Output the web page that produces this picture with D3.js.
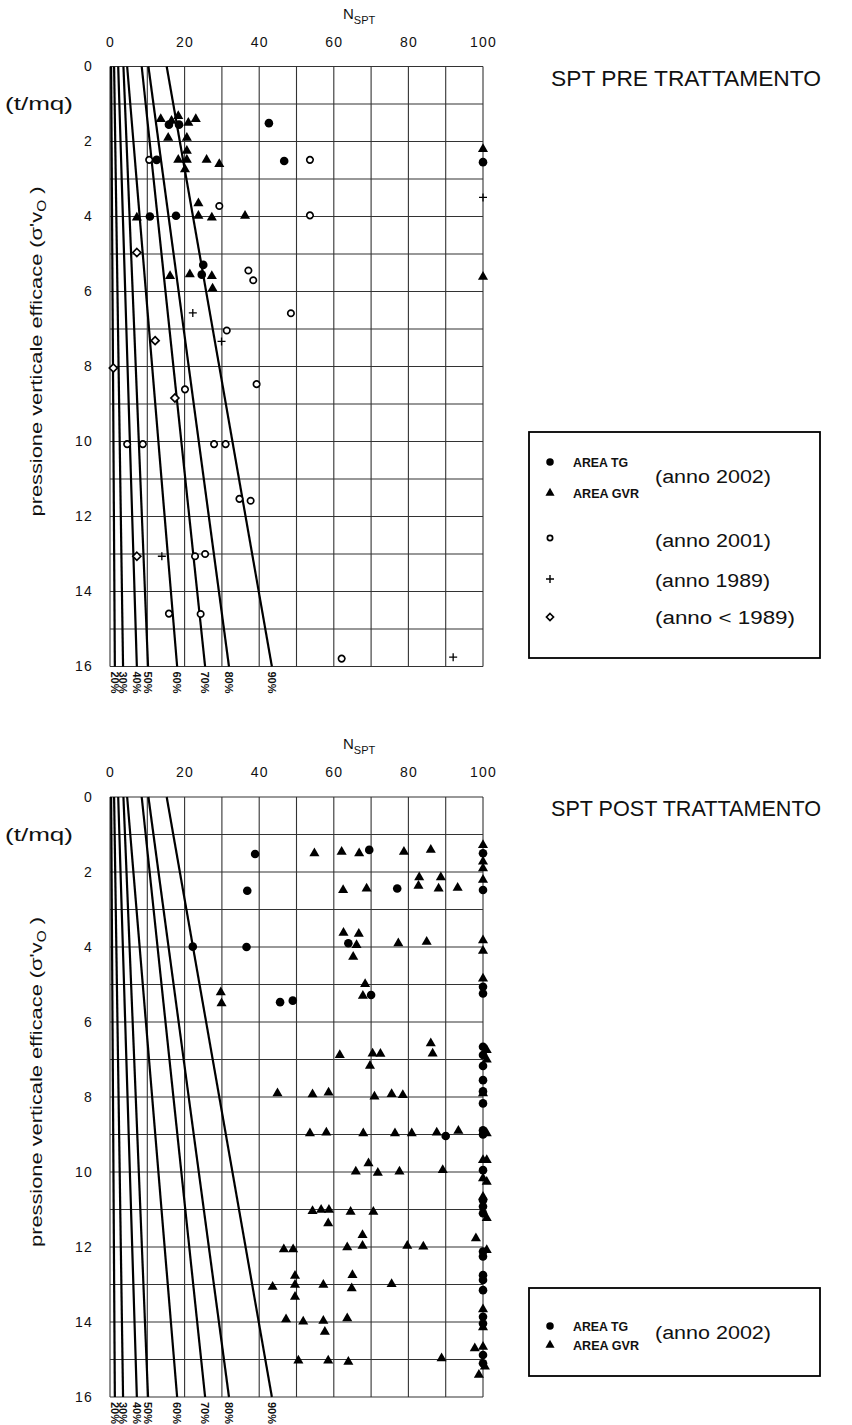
<!DOCTYPE html>
<html>
<head>
<meta charset="utf-8">
<script src="https://cdn.jsdelivr.net/npm/d3@7"></script>
<style>
  body { margin: 0; background: #fff; }
  svg { display: block; }
  text { font-family: "Liberation Sans", Arial, sans-serif; fill: #111; }
</style>
</head>
<body>
<div id="chart"></div>
<script>
// x ticks / y ticks
var nTicks = [0, 20, 40, 60, 80, 100],
    sigmaTicks = [0, 2, 4, 6, 8, 10, 12, 14, 16];

// relative density lines: N at sigma=0 and at sigma=16
var drLabels = ["20%", "30%", "40%", "50%", "60%", "70%", "80%", "90%"],
    drTopN = [0.3, 1.1, 2.2, 3.6, 4.6, 8.5, 10.3, 15.2],
    drBottomN = [1.3, 3.5, 7.2, 10.2, 18.0, 25.5, 31.9, 43.4];

// SPT PRE trattamento  [N, sigma]
var preTG = [[15.8,1.55],[18.5,1.55],[42.6,1.51],[12.5,2.49],[46.7,2.52],[100,2.55],
    [10.7,4.0],[17.7,3.98],[25,5.29],[24.6,5.55]];
var preGVR = [[13.6,1.4],[16.5,1.45],[18.3,1.32],[21,1.5],[23,1.4],[15.6,1.9],[20.6,1.9],
    [20.6,2.25],[18.3,2.49],[20.6,2.49],[25.9,2.49],[29.3,2.6],[20.1,2.74],[23.7,3.65],
    [7.2,4.03],[23.7,3.98],[27.3,4.03],[36.2,3.98],[16.1,5.59],[21.4,5.54],[27.3,5.59],
    [27.5,5.92],[100,2.2],[100,5.61]];
var pre2001 = [[10.5,2.49],[53.6,2.49],[29.3,3.72],[53.6,3.97],[37.1,5.44],[38.4,5.7],
    [48.5,6.58],[31.3,7.04],[39.3,8.47],[20.1,8.61],[4.6,10.07],[8.8,10.07],[27.9,10.07],
    [31,10.07],[34.7,11.53],[37.7,11.58],[22.8,13.06],[25.5,13.0],[15.8,14.59],[24.3,14.6],
    [62.1,15.79]];
var pre1989 = [[22.2,6.57],[29.9,7.33],[13.9,13.06],[100,3.49],[92,15.75]];
var preOld = [[7.2,4.96],[12.1,7.31],[0.9,8.04],[17.4,8.84],[7.2,13.06]];

// SPT POST trattamento  [N, sigma]
var postTG = [[38.9,1.52],[36.8,2.5],[22.2,3.99],[36.6,4.0],[45.6,5.47],[49.0,5.43],
    [69.5,1.41],[77.0,2.44],[63.9,3.9],[70.0,5.28],[90.0,9.04],
    [100,1.5],[100,2.48],[100,5.06],[100,5.24],[100,6.66],[100,6.88],[100,7.17],[100,7.55],
    [100,7.85],[100,8.17],[100,8.89],[100,9.0],[100,9.95],[100,10.75],[100,10.92],[100,11.1],
    [100,12.12],[100,12.25],[100,12.75],[100,12.88],[100,13.15],[100,13.86],[100,14.04],
    [100,14.88],[100,15.1]];
var postGVR = [[54.8,1.5],[62.1,1.46],[66.8,1.5],[78.8,1.46],[86.0,1.41],
    [100,1.28],[100,1.72],[100,1.9],
    [62.5,2.48],[68.8,2.44],[82.9,2.14],[82.7,2.37],[88.7,2.14],[88.1,2.44],[93.2,2.42],[100,2.21],
    [62.6,3.62],[66.7,3.65],[66.1,3.95],[65.2,4.26],[77.3,3.9],[84.9,3.86],[100,3.82],[100,4.1],
    [29.7,5.21],[29.9,5.5],[68.4,4.99],[67.8,5.3],[100,4.84],
    [61.6,6.88],[86.0,6.57],[86.5,6.84],[70.4,6.84],[72.5,6.85],[69.7,7.17],
    [101,6.75],[101,7.0],[100,7.9],
    [44.9,7.9],[54.3,7.93],[58.6,7.88],[70.9,7.99],[75.5,7.92],[78.5,7.95],
    [53.6,8.97],[58.0,8.95],[67.9,8.97],[76.4,8.97],[80.9,8.97],[87.6,8.95],[93.4,8.9],[101,8.97],
    [69.3,9.77],[65.9,9.99],[71.8,10.02],[77.6,9.99],[89.2,9.95],
    [100,9.68],[101,9.68],[100,10.17],[101,10.26],[100,10.66],
    [54.3,11.04],[56.6,11.01],[58.7,11.01],[58.5,11.37],[64.5,11.06],[70.6,11.06],[101,11.23],
    [46.6,12.06],[49.1,12.06],[63.6,12.01],[67.7,11.97],[67.7,11.68],[79.7,11.97],[84.0,11.99],
    [98.1,11.77],[101,12.08],
    [49.6,12.77],[49.6,13.01],[49.6,13.33],[43.6,13.06],[57.2,13.01],[65.0,12.75],[64.8,13.1],[75.5,12.99],
    [47.2,13.93],[51.8,13.99],[57.2,13.97],[57.6,14.26],[63.6,13.9],[100,13.66],[100,14.14],
    [50.5,15.03],[58.5,15.03],[63.9,15.06],[88.9,14.97],[97.8,14.7],[100,14.66],[100.5,15.19],[98.9,15.41]];

var W = 852, H = 1425;
var svg = d3.select("#chart").append("svg")
    .attr("width", W)
    .attr("height", H);

var symTri = d3.symbol().type(d3.symbolTriangle).size(44);

function drawPanel(top, title, series){
    var x = d3.scaleLinear().domain([0, 100]).range([110, 483]),
        y = d3.scaleLinear().domain([0, 16]).range([top, top + 600]);

    var g = svg.append("g");

    // grid (every 10 N, every 1 t/mq)
    g.append("g").selectAll("line")
        .data(d3.range(0, 101, 10))
        .join("line")
        .attr("x1", d => x(d)).attr("x2", d => x(d))
        .attr("y1", y(0)).attr("y2", y(16))
        .attr("stroke", "#333").attr("stroke-width", 1.1);
    g.append("g").selectAll("line")
        .data(d3.range(0, 17, 1))
        .join("line")
        .attr("x1", x(0)).attr("x2", x(100))
        .attr("y1", d => y(d)).attr("y2", d => y(d))
        .attr("stroke", "#333").attr("stroke-width", 1.1);

    // axis labels
    var xAxis = g.append("g")
        .attr("transform", "translate(0," + (top - 20) + ")")
        .call(d3.axisTop(x).tickValues(nTicks).tickSize(0).tickPadding(0));
    xAxis.select(".domain").remove();
    xAxis.selectAll("text")
        .style("font-family", "Liberation Sans, Arial, sans-serif")
        .style("font-size", "14px").style("letter-spacing", "1.2px").attr("fill", "#111");

    var yAxis = g.append("g")
        .attr("transform", "translate(93,0)")
        .call(d3.axisLeft(y).tickValues(sigmaTicks).tickSize(0).tickPadding(0));
    yAxis.select(".domain").remove();
    yAxis.selectAll("text")
        .style("font-family", "Liberation Sans, Arial, sans-serif")
        .style("font-size", "14px").style("letter-spacing", "1.2px").attr("fill", "#111");

    var nl = g.append("text")
        .attr("x", 343).attr("y", top - 48)
        .style("font-size", "15px");
    nl.append("tspan").text("N");
    nl.append("tspan").attr("dy", 5).style("font-size", "11px").text("SPT");

    g.append("text")
        .attr("x", 5).attr("y", y(1) + 6)
        .style("font-size", "18px")
        .attr("textLength", 68)
        .attr("lengthAdjust", "spacingAndGlyphs")
        .text("(t/mq)");

    var yt = g.append("text")
        .attr("transform", "translate(42," + y(7.6) + ") rotate(-90)")
        .attr("text-anchor", "middle")
        .attr("textLength", 330)
        .attr("lengthAdjust", "spacingAndGlyphs")
        .style("font-size", "17px");
    yt.append("tspan").text("pressione verticale efficace  (\u03c3'v");
    yt.append("tspan").attr("dy", 4).style("font-size", "12px").text("O");
    yt.append("tspan").attr("dy", -4).text(" )");

    g.append("text")
        .attr("x", 551).attr("y", top + 19)
        .style("font-size", "22px")
        .attr("textLength", 270)
        .attr("lengthAdjust", "spacingAndGlyphs")
        .text(title);

    // relative density lines
    var dr = drLabels.map((l, i) => ({label: l, n0: drTopN[i], n1: drBottomN[i]}));
    g.append("g").selectAll("line")
        .data(dr)
        .join("line")
        .attr("x1", d => x(d.n0)).attr("y1", y(0))
        .attr("x2", d => x(d.n1)).attr("y2", y(16))
        .attr("stroke", "#000").attr("stroke-width", 2.2);
    g.append("g").selectAll("text")
        .data(dr)
        .join("text")
        .attr("transform", d => "translate(" + (x(d.n1) - 4) + "," + (y(16) + 5) + ") rotate(90)")
        .style("font-size", "11px")
        .style("font-weight", "bold")
        .text(d => d.label);

    // points
    var pts = g.append("g");
    series.forEach(function(s){
        var sel = pts.append("g").selectAll("path")
            .data(s.data)
            .join("path")
            .attr("transform", d => "translate(" + x(d[0]) + "," + y(d[1]) + ")");
        if (s.type == "tg") {
            sel.attr("d", d3.symbol().type(d3.symbolCircle).size(58)).attr("fill", "#000");
        } else if (s.type == "gvr") {
            sel.attr("d", symTri).attr("fill", "#000");
        } else if (s.type == "open") {
            sel.attr("d", d3.symbol().type(d3.symbolCircle).size(32))
               .attr("fill", "#fff").attr("stroke", "#000").attr("stroke-width", 1.7);
        } else if (s.type == "plus") {
            sel.attr("d", "M-4,0H4M0,-4V4").attr("stroke", "#000").attr("stroke-width", 1.3);
        } else if (s.type == "diamond") {
            sel.attr("d", "M0,-4L4,0L0,4L-4,0Z")
               .attr("fill", "#fff").attr("stroke", "#000").attr("stroke-width", 1.7);
        }
    });
}

function drawLegend(x0, y0, w, h, rows){
    var g = svg.append("g");
    g.append("rect")
        .attr("x", x0).attr("y", y0).attr("width", w).attr("height", h)
        .attr("fill", "none").attr("stroke", "#000").attr("stroke-width", 1.8);
    rows.forEach(function(r){
        var p = g.append("path")
            .attr("transform", "translate(" + (x0 + 21) + "," + (y0 + r.dy) + ")");
        if (r.type == "tg") p.attr("d", d3.symbol().type(d3.symbolCircle).size(44)).attr("fill", "#000");
        if (r.type == "gvr") p.attr("d", d3.symbol().type(d3.symbolTriangle).size(36)).attr("fill", "#000");
        if (r.type == "open") p.attr("d", d3.symbol().type(d3.symbolCircle).size(22))
            .attr("fill", "none").attr("stroke", "#000").attr("stroke-width", 1.7);
        if (r.type == "plus") p.attr("d", "M-4,0H4M0,-4V4").attr("stroke", "#000").attr("stroke-width", 1.4);
        if (r.type == "diamond") p.attr("d", "M0,-3.5L3.5,0L0,3.5L-3.5,0Z")
            .attr("fill", "none").attr("stroke", "#000").attr("stroke-width", 1.7);
        if (r.small) {
            g.append("text")
                .attr("x", x0 + 44).attr("y", y0 + r.dy + 5)
                .style("font-size", "12px").style("font-weight", "bold")
                .attr("textLength", r.sw)
                .attr("lengthAdjust", "spacingAndGlyphs")
                .text(r.small);
        }
        if (r.label) {
            g.append("text")
                .attr("x", x0 + 126).attr("y", y0 + r.ly + 6)
                .style("font-size", "18px")
                .attr("textLength", r.lw)
                .attr("lengthAdjust", "spacingAndGlyphs")
                .text(r.label);
        }
    });
}

drawPanel(66.5, "SPT  PRE  TRATTAMENTO", [
    {type: "tg", data: preTG},
    {type: "gvr", data: preGVR},
    {type: "open", data: pre2001},
    {type: "plus", data: pre1989},
    {type: "diamond", data: preOld}
]);
drawLegend(529, 432, 291, 226, [
    {type: "tg", dy: 30, small: "AREA  TG", sw: 55},
    {type: "gvr", dy: 61, small: "AREA  GVR", sw: 66, label: "(anno  2002)", ly: 45, lw: 116},
    {type: "open", dy: 106, label: "(anno  2001)", ly: 109, lw: 116},
    {type: "plus", dy: 147, label: "(anno  1989)", ly: 149, lw: 115},
    {type: "diamond", dy: 185, label: "(anno  <  1989)", ly: 186, lw: 140}
]);

drawPanel(797, "SPT  POST  TRATTAMENTO", [
    {type: "gvr", data: postGVR},
    {type: "tg", data: postTG}
]);
drawLegend(529, 1288, 291, 88, [
    {type: "tg", dy: 38, small: "AREA  TG", sw: 55},
    {type: "gvr", dy: 57, small: "AREA  GVR", sw: 66, label: "(anno  2002)", ly: 45, lw: 116}
]);
</script>
</body>
</html>
